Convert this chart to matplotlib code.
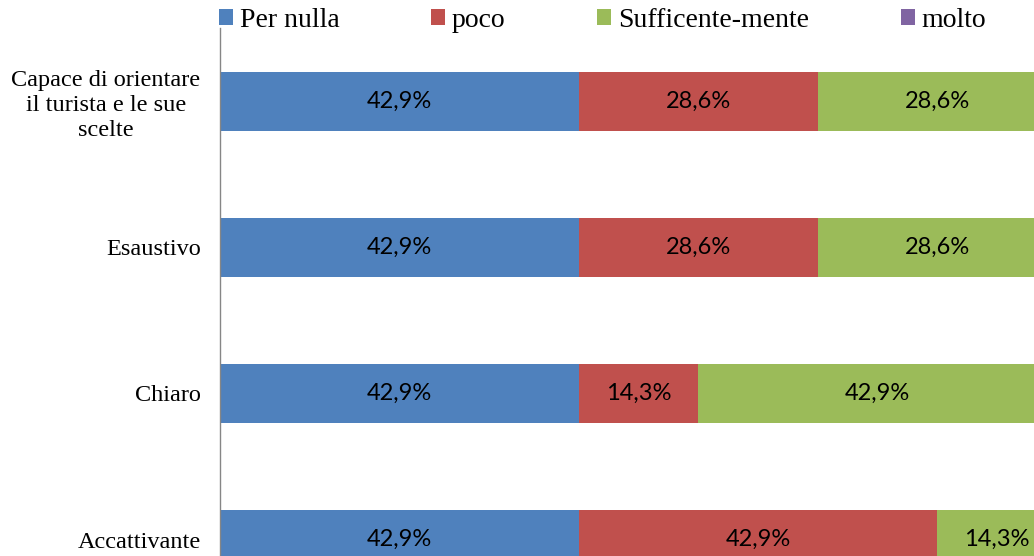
import matplotlib
matplotlib.use("Agg")
import matplotlib.pyplot as plt
import numpy as np

# dati
categorie = ["Capace di orientare\nil turista e le sue\nscelte", "Esaustivo", "Chiaro", "Accattivante"]
serie = ["Per nulla", "poco", "Sufficente-mente", "molto"]
per_nulla = [42.9, 42.9, 42.9, 42.9]
poco = [28.6, 28.6, 14.3, 42.9]
sufficente = [28.6, 28.6, 42.9, 14.3]
molto = [0, 0, 0, 0]
colori = ["#4F81BD", "#C0504D", "#9BBB59", "#8064A2"]

W, H = 1034, 556
fig = plt.figure(figsize=(W / 100, H / 100), dpi=100)
# l'area del grafico esce un po' dall'immagine (a destra e in basso), come nell'originale
ax = fig.add_axes([220 / W, 1 - 612.5 / H, 836 / W, 584 / H])

y = np.arange(len(categorie))
left = np.zeros(len(categorie))
for nome, valori, col in zip(serie, [per_nulla, poco, sufficente, molto], colori):
    bars = ax.barh(y, valori, left=left, height=0.40, color=col, label=nome)
    for b, v in zip(bars, valori):
        if v > 0:
            ax.text(b.get_x() + b.get_width() / 2, b.get_y() + b.get_height() / 2,
                    f"{v:.1f}%".replace(".", ","), ha="center", va="center",
                    fontsize=17, family="Lato", color="black")
    left += np.array(valori)

ax.set_xlim(0, 100)
ax.set_ylim(3.5, -0.5)
ax.set_yticks(y)
ax.set_yticklabels(categorie, family="Liberation Serif", fontsize=17.5)
for t in ax.get_yticklabels():
    t.set_multialignment("center")
    t.set_linespacing(1.25)
ax.tick_params(axis="y", length=0, pad=14)
ax.set_xticks([])
for s in ["top", "right", "bottom"]:
    ax.spines[s].set_visible(False)
ax.spines["left"].set_color("#868686")
ax.spines["left"].set_linewidth(1)

fig.legend(loc="upper left", bbox_to_anchor=(219 / W, 1 - 8 / H), ncol=4, frameon=False,
           prop={"family": "Liberation Serif", "size": 20}, handlelength=0.5, handleheight=0.5,
           handletextpad=0.25, columnspacing=3.3, borderpad=0, borderaxespad=0)

fig.savefig("out.png", dpi=100)
